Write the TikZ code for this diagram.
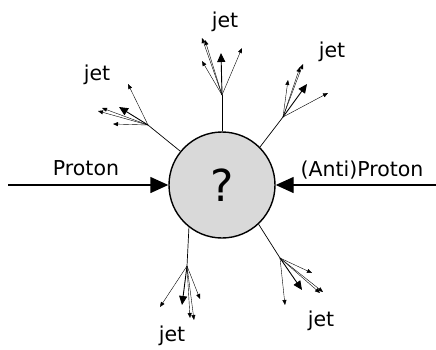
\documentclass[tikz,border=0pt]{standalone}
\usepackage{fontspec}
\setmainfont{DejaVu Sans}
\usetikzlibrary{arrows.meta}
\tikzset{
  beam/.style={line width=1.4pt, -{Triangle[length=18pt,width=16pt]}},
  core/.style={circle, draw, line width=1.4pt, fill=gray!30, minimum size=106pt, inner sep=0pt, font=\fontsize{44}{44}\selectfont},
  stem/.style={line width=0.7pt},
  lead/.style={line width=0.9pt, -{Triangle[length=9pt,width=8pt]}},
  track/.style={line width=0.4pt, -{Triangle[length=5pt,width=4pt]}},
  lbl/.style={font=\fontsize{20.5}{20.5}\selectfont, inner sep=0pt, anchor=base},
}
\begin{document}
\begin{tikzpicture}[x=1pt,y=-1pt]
\useasboundingbox (0,0) rectangle (436,349);
% collision vertex
\node[core] (v) at (222,185) {?};
% incoming beams
\coordinate (pL) at (8,185);
\coordinate (pR) at (436,185);
\draw[beam] (pL) -- (v.west);
\draw[beam] (pR) -- (v.east);
\node[lbl] (tL) at (86,175) {Proton};
\node[lbl] (tR) at (362,176) {(Anti)Proton};
% upper-left jet
\coordinate (a0) at (148,125);
\draw[stem] (v.{141}) -- (a0);
\coordinate (a1) at (119,107);
\coordinate (a2) at (128,84);
\coordinate (a3) at (98,111);
\coordinate (a4) at (102,108);
\coordinate (a5) at (113,124);
\draw[lead] (a0) -- (a1);
\draw[track] (a0) -- (a2);
\draw[track] (a0) -- (a3);
\draw[track] (a0) -- (a4);
\draw[track] (a0) -- (a5);
\node[lbl] (ja) at (97,80) {jet};
% upper jet
\coordinate (b0) at (222,95);
\draw[stem] (v.north) -- (b0);
\coordinate (b1) at (221,53);
\coordinate (b2) at (202,61);
\coordinate (b3) at (205,40);
\coordinate (b4) at (202,38);
\coordinate (b5) at (242,48);
\draw[lead] (b0) -- (b1);
\draw[track] (b0) -- (b2);
\draw[track] (b0) -- (b3);
\draw[track] (b0) -- (b4);
\draw[track] (b0) -- (b5);
\node[lbl] (jb) at (225,27) {jet};
% upper-right jet
\coordinate (c0) at (283,117);
\draw[stem] (v.{45}) -- (c0);
\coordinate (c1) at (307,84);
\coordinate (c2) at (328,93);
\coordinate (c3) at (288,80);
\coordinate (c4) at (303,64);
\coordinate (c5) at (300,67);
\draw[lead] (c0) -- (c1);
\draw[track] (c0) -- (c2);
\draw[track] (c0) -- (c3);
\draw[track] (c0) -- (c4);
\draw[track] (c0) -- (c5);
\node[lbl] (jc) at (332,57) {jet};
% lower-left jet
\coordinate (d0) at (187,266);
\draw[stem] (v.{-128}) -- (d0);
\coordinate (d1) at (182,305);
\coordinate (d2) at (160,307);
\coordinate (d3) at (200,299);
\coordinate (d4) at (194,320);
\coordinate (d5) at (190,318);
\draw[lead] (d0) -- (d1);
\draw[track] (d0) -- (d2);
\draw[track] (d0) -- (d3);
\draw[track] (d0) -- (d4);
\draw[track] (d0) -- (d5);
\node[lbl] (jd) at (172,341) {jet};
% lower-right jet
\coordinate (e0) at (280,258);
\draw[stem] (v.{-47}) -- (e0);
\coordinate (e1) at (302,290);
\coordinate (e2) at (312,273);
\coordinate (e3) at (285,305);
\coordinate (e4) at (320,293);
\coordinate (e5) at (323,292);
\draw[lead] (e0) -- (e1);
\draw[track] (e0) -- (e2);
\draw[track] (e0) -- (e3);
\draw[track] (e0) -- (e4);
\draw[track] (e0) -- (e5);
\node[lbl] (je) at (321,326) {jet};
\end{tikzpicture}
\end{document}
